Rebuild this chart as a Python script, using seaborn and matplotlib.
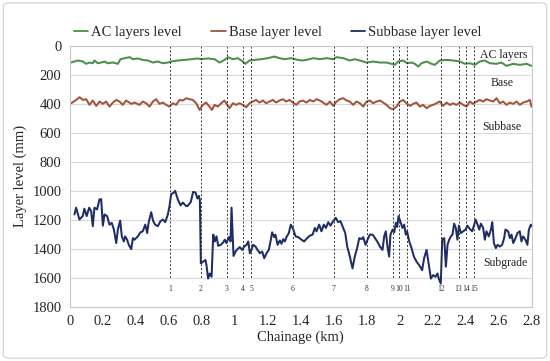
import numpy as np
import pandas as pd
import matplotlib
matplotlib.use("Agg")
import matplotlib.pyplot as plt
from matplotlib.patches import FancyBboxPatch
import seaborn as sns

# AC layers level (mm)
ac_km = [0.008, 0.048, 0.079, 0.099, 0.119, 0.139, 0.149, 0.170, 0.190, 0.210,
         0.230, 0.261, 0.291, 0.307, 0.331, 0.362, 0.382, 0.412, 0.442, 0.473,
         0.503, 0.533, 0.564, 0.594, 0.614, 0.655, 0.695, 0.735, 0.776, 0.796,
         0.836, 0.877, 0.907, 0.937, 0.958, 0.988, 1.018, 1.048, 1.063, 1.089,
         1.119, 1.160, 1.200, 1.240, 1.271, 1.301, 1.341, 1.382, 1.412, 1.434,
         1.475, 1.515, 1.556, 1.596, 1.616, 1.657, 1.697, 1.727, 1.758, 1.798,
         1.838, 1.879, 1.919, 1.949, 1.970, 1.990, 2.020, 2.044, 2.071, 2.091,
         2.111, 2.131, 2.162, 2.192, 2.212, 2.242, 2.283, 2.323, 2.364, 2.394,
         2.424, 2.455, 2.485, 2.515, 2.545, 2.586, 2.616, 2.646, 2.687, 2.727,
         2.768, 2.798]
ac_mm = [115, 101, 108, 124, 115, 120, 101, 120, 115, 108,
         120, 115, 124, 92, 85, 78, 92, 87, 97, 101,
         115, 108, 120, 115, 108, 101, 97, 92, 87, 92,
         87, 92, 115, 97, 78, 92, 85, 108, 124, 101,
         97, 92, 85, 74, 85, 92, 85, 97, 101, 97,
         85, 92, 85, 92, 78, 85, 101, 92, 101, 115,
         108, 115, 115, 124, 131, 108, 101, 120, 115, 124,
         143, 120, 108, 124, 131, 101, 97, 101, 108, 124,
         120, 131, 108, 101, 120, 124, 115, 138, 124, 131,
         124, 138]

# Base layer level (mm)
base_km = [0.008, 0.038, 0.059, 0.079, 0.099, 0.119, 0.139, 0.160, 0.180, 0.200,
           0.220, 0.240, 0.261, 0.281, 0.301, 0.321, 0.341, 0.372, 0.392, 0.422,
           0.442, 0.463, 0.483, 0.503, 0.523, 0.543, 0.564, 0.584, 0.604, 0.624,
           0.644, 0.665, 0.685, 0.705, 0.725, 0.745, 0.766, 0.786, 0.806, 0.826,
           0.846, 0.861, 0.877, 0.897, 0.917, 0.937, 0.954, 0.968, 0.988, 1.008,
           1.028, 1.048, 1.069, 1.089, 1.109, 1.129, 1.149, 1.170, 1.190, 1.210,
           1.230, 1.250, 1.271, 1.291, 1.311, 1.331, 1.352, 1.372, 1.392, 1.412,
           1.434, 1.455, 1.475, 1.495, 1.515, 1.535, 1.556, 1.576, 1.596, 1.616,
           1.636, 1.657, 1.677, 1.697, 1.717, 1.737, 1.758, 1.778, 1.798, 1.818,
           1.838, 1.859, 1.879, 1.899, 1.919, 1.939, 1.960, 1.980, 2.000, 2.020,
           2.040, 2.061, 2.081, 2.101, 2.121, 2.141, 2.162, 2.182, 2.202, 2.222,
           2.242, 2.263, 2.283, 2.303, 2.323, 2.343, 2.364, 2.384, 2.404, 2.424,
           2.444, 2.465, 2.485, 2.505, 2.525, 2.545, 2.566, 2.586, 2.606, 2.626,
           2.646, 2.667, 2.687, 2.707, 2.727, 2.747, 2.768, 2.788, 2.798]
base_mm = [396, 373, 354, 373, 368, 407, 377, 414, 384, 400,
           384, 419, 391, 373, 384, 407, 377, 400, 391, 407,
           384, 396, 419, 384, 368, 400, 391, 407, 419, 396,
           407, 373, 377, 361, 368, 373, 396, 442, 407, 391,
           419, 442, 407, 419, 396, 377, 407, 430, 396, 407,
           396, 407, 423, 396, 384, 373, 391, 377, 396, 384,
           373, 391, 377, 368, 384, 373, 391, 407, 384, 377,
           391, 373, 384, 368, 377, 391, 407, 384, 414, 384,
           368, 361, 377, 384, 407, 384, 396, 419, 384, 377,
           396, 384, 377, 391, 407, 430, 437, 419, 384, 373,
           396, 414, 400, 391, 419, 407, 430, 414, 407, 396,
           384, 414, 391, 407, 396, 407, 391, 407, 419, 384,
           400, 384, 373, 384, 368, 377, 384, 361, 396, 384,
           407, 391, 400, 384, 407, 391, 384, 373, 419]

# Subbase layer level (mm)
sub_km = [0.028, 0.038, 0.058, 0.078, 0.088, 0.102, 0.117, 0.129, 0.139, 0.149,
          0.165, 0.180, 0.190, 0.200, 0.210, 0.226, 0.240, 0.254, 0.267, 0.281,
          0.291, 0.305, 0.315, 0.327, 0.335, 0.347, 0.357, 0.372, 0.382, 0.392,
          0.412, 0.428, 0.442, 0.457, 0.469, 0.477, 0.493, 0.505, 0.517, 0.533,
          0.549, 0.564, 0.578, 0.594, 0.604, 0.614, 0.630, 0.638, 0.654, 0.671,
          0.685, 0.705, 0.713, 0.733, 0.747, 0.762, 0.773, 0.782, 0.788, 0.794,
          0.808, 0.822, 0.828, 0.838, 0.848, 0.859, 0.869, 0.879, 0.889, 0.899,
          0.915, 0.929, 0.939, 0.949, 0.964, 0.974, 0.980, 0.992, 1.004, 1.016,
          1.030, 1.044, 1.057, 1.071, 1.081, 1.091, 1.101, 1.111, 1.125, 1.137,
          1.152, 1.166, 1.178, 1.192, 1.206, 1.218, 1.226, 1.238, 1.246, 1.259,
          1.273, 1.283, 1.293, 1.303, 1.313, 1.327, 1.339, 1.353, 1.368, 1.384,
          1.404, 1.420, 1.438, 1.455, 1.471, 1.485, 1.495, 1.511, 1.525, 1.539,
          1.552, 1.566, 1.580, 1.596, 1.612, 1.626, 1.640, 1.657, 1.669, 1.681,
          1.697, 1.713, 1.727, 1.741, 1.754, 1.768, 1.778, 1.792, 1.804, 1.818,
          1.835, 1.849, 1.863, 1.879, 1.895, 1.905, 1.915, 1.925, 1.935, 1.943,
          1.956, 1.966, 1.976, 1.984, 1.992, 2.004, 2.016, 2.026, 2.036, 2.044,
          2.057, 2.071, 2.085, 2.101, 2.117, 2.135, 2.147, 2.162, 2.176, 2.188,
          2.202, 2.216, 2.228, 2.236, 2.248, 2.257, 2.269, 2.279, 2.289, 2.299,
          2.309, 2.319, 2.329, 2.339, 2.349, 2.358, 2.370, 2.384, 2.398, 2.410,
          2.424, 2.438, 2.451, 2.459, 2.471, 2.481, 2.491, 2.505, 2.515, 2.525,
          2.539, 2.552, 2.560, 2.570, 2.582, 2.592, 2.606, 2.620, 2.632, 2.640,
          2.656, 2.667, 2.677, 2.687, 2.697, 2.713, 2.727, 2.737, 2.747, 2.761,
          2.773, 2.782, 2.794, 2.800]
sub_mm = [1163, 1116, 1198, 1174, 1123, 1174, 1116, 1140, 1244, 1116,
          1128, 1058, 1058, 1240, 1163, 1174, 1233, 1221, 1267, 1360,
          1267, 1205, 1314, 1349, 1314, 1337, 1372, 1402, 1326, 1337,
          1314, 1286, 1279, 1233, 1291, 1221, 1147, 1209, 1233, 1244,
          1209, 1198, 1216, 1163, 1105, 1023, 1012, 1000, 1058, 1100,
          1081, 1105, 1105, 1077, 1007, 1012, 1053, 1035, 1063, 1500,
          1488, 1477, 1512, 1605, 1570, 1593, 1302, 1349, 1314, 1379,
          1372, 1356, 1337, 1360, 1319, 1349, 1116, 1449, 1419, 1402,
          1388, 1407, 1384, 1372, 1349, 1430, 1407, 1372, 1384, 1407,
          1430, 1419, 1465, 1430, 1407, 1337, 1286, 1319, 1302, 1372,
          1342, 1365, 1333, 1349, 1319, 1291, 1233, 1263, 1314, 1319,
          1337, 1349, 1326, 1309, 1302, 1256, 1279, 1233, 1279, 1233,
          1256, 1216, 1240, 1209, 1186, 1216, 1209, 1256, 1291, 1384,
          1453, 1535, 1453, 1395, 1326, 1333, 1319, 1372, 1337, 1302,
          1302, 1326, 1349, 1384, 1407, 1314, 1279, 1384, 1453, 1302,
          1267, 1286, 1221, 1249, 1174, 1216, 1256, 1233, 1302, 1279,
          1349, 1395, 1453, 1488, 1512, 1547, 1465, 1407, 1512, 1605,
          1581, 1593, 1570, 1605, 1640, 1333, 1326, 1523, 1372, 1337,
          1314, 1302, 1226, 1256, 1337, 1240, 1291, 1279, 1267, 1240,
          1263, 1279, 1233, 1198, 1233, 1267, 1226, 1256, 1337, 1279,
          1314, 1267, 1216, 1360, 1395, 1372, 1384, 1372, 1326, 1267,
          1279, 1326, 1302, 1360, 1337, 1291, 1279, 1349, 1314, 1337,
          1372, 1267, 1233, 1244]

# section boundaries
section_km = [0.606, 0.794, 0.95, 1.047, 1.10, 1.35, 1.60, 1.80,
              1.956, 1.994, 2.046, 2.25, 2.356, 2.40, 2.45]
section_labels = [str(i) for i in range(1, 16)]

layer_names = ["AC layers level", "Base layer level", "Subbase layer level"]
layer_colors = ["#4a8f4a", "#a3543a", "#1f2d66"]

region_names = ["AC layers", "Base", "Subbase", "Subgrade"]
region_km = [2.63, 2.62, 2.62, 2.64]
region_mm = [62, 258, 559, 1497]

x_ticks = [0, 0.2, 0.4, 0.6, 0.8, 1.0, 1.2, 1.4, 1.6, 1.8, 2.0, 2.2, 2.4, 2.6, 2.8]
y_ticks = [0, 200, 400, 600, 800, 1000, 1200, 1400, 1600, 1800]

df = pd.concat([
    pd.DataFrame({"km": ac_km, "mm": ac_mm, "layer": layer_names[0]}),
    pd.DataFrame({"km": base_km, "mm": base_mm, "layer": layer_names[1]}),
    pd.DataFrame({"km": sub_km, "mm": sub_mm, "layer": layer_names[2]}),
])

sns.set_style("white")
plt.rcParams["font.family"] = ["Liberation Serif", "DejaVu Serif"]

fig = plt.figure(figsize=(5.5, 3.61), dpi=100)
ax = fig.add_axes([0.127, 0.150, 0.840, 0.723])

sns.lineplot(data=df, x="km", y="mm", hue="layer", palette=layer_colors,
             hue_order=layer_names, estimator=None, sort=False,
             linewidth=1.45, ax=ax, legend=False)

ax.vlines(section_km, 0, 1600, colors="#333333", linestyles=(0, (2, 2)), linewidth=0.7)
for k, lab in zip(section_km, section_labels):
    ax.text(k, 1680, lab, fontsize=5.5, ha="center", va="center", color="#333333")

for k, m, name in zip(region_km, region_mm, region_names):
    ax.text(k, m, name, fontsize=8.5, ha="center", va="center", color="#222222")

ax.set_xlim(0, 2.8)
ax.set_ylim(1800, 0)
ax.set_xticks(x_ticks)
ax.set_xticklabels([f"{t:g}" for t in x_ticks])
ax.set_yticks(y_ticks)
ax.yaxis.grid(True, color="#d9d9d9", linewidth=0.8)
ax.set_axisbelow(True)
ax.tick_params(length=0, labelsize=10.5, pad=6)
for s in ax.spines.values():
    s.set_color("#c8c8c8")
    s.set_linewidth(0.8)
ax.set_xlabel("Chainage (km)", fontsize=10.5, labelpad=2)
ax.set_ylabel("Layer level (mm)", fontsize=10.5, labelpad=4)

handles = [plt.Line2D([], [], color=c, linewidth=1.3) for c in layer_colors]
fig.legend(handles, layer_names, loc="center", bbox_to_anchor=(0.505, 0.909),
           ncol=3, frameon=False, fontsize=10.5, handlelength=1.0,
           handletextpad=0.2, columnspacing=2.0)

fig.patches.append(FancyBboxPatch((0.006, 0.008), 0.988, 0.984,
                                  boxstyle="round,pad=0,rounding_size=0.01",
                                  transform=fig.transFigure, facecolor="none",
                                  edgecolor="#d0d0d0", linewidth=0.8))

fig.savefig("out.png", dpi=100)
